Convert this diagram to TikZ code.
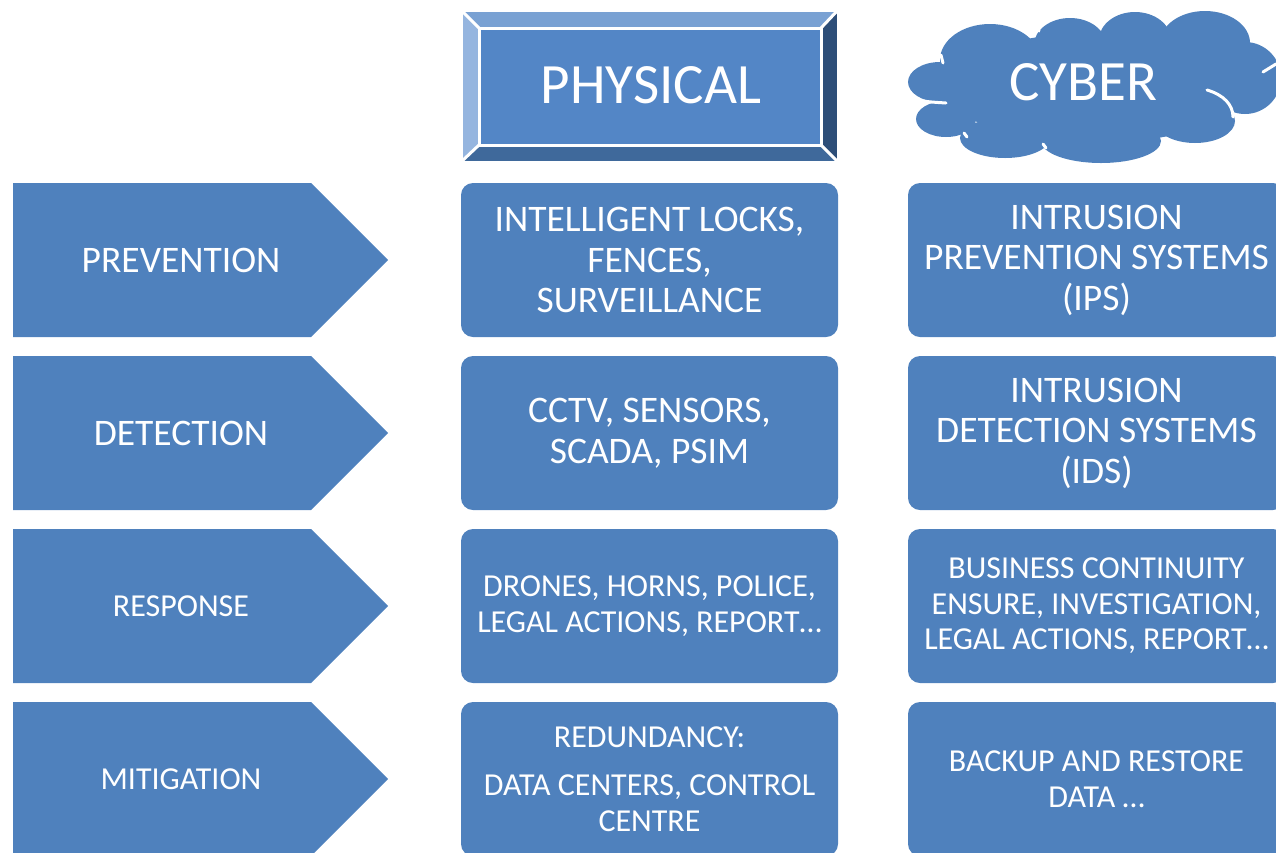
\documentclass[tikz,border=0pt]{standalone}
\usepackage{fontspec}
\setmainfont{Carlito}
\usetikzlibrary{shapes.symbols}
\definecolor{mainblue}{HTML}{4F81BD}
\definecolor{bvtop}{HTML}{79A1D3}
\definecolor{bvleft}{HTML}{95B5DF}
\definecolor{bvright}{HTML}{2D4E78}
\definecolor{bvbottom}{HTML}{3F699B}
\definecolor{bvinner}{HTML}{5386C6}
\tikzset{
  big/.style={font=\fontsize{37.5}{40.5}\selectfont},
  small/.style={font=\fontsize{32}{35.5}\selectfont},
  rbox/.style={rectangle, rounded corners=12pt, fill=mainblue, minimum width=377pt, minimum height=154pt, inner sep=0pt, text=white, align=center},
  arrowbox/.style={signal, signal to=east, signal pointer angle=90, fill=mainblue, minimum width=375pt, minimum height=154pt, inner sep=0pt, anchor=west},
  lbl/.style={text=white, inner sep=0pt, align=center},
  bevel/.style={draw=white, line width=3pt, line join=miter},
  cloudline/.style={draw=white, line width=3pt, line cap=round}
}
\begin{document}
\begin{tikzpicture}[x=1pt,y=-1pt]
\useasboundingbox (0,0) rectangle (1276,852);

% PHYSICAL bevel
\fill[bvtop] (461,10) -- (838,10) -- (821,28) -- (479,28) -- cycle;
\fill[bvleft] (461,10) -- (479,28) -- (479,145) -- (461,162) -- cycle;
\fill[bvright] (838,10) -- (838,162) -- (821,145) -- (821,28) -- cycle;
\fill[bvbottom] (461,162) -- (479,145) -- (821,145) -- (838,162) -- cycle;
\fill[bvinner] (479,28) rectangle (821,145);
\draw[bevel] (461,10) rectangle (838,162);
\draw[bevel] (479,28) rectangle (821,145);
\draw[bevel] (461,10) -- (479,28) (838,10) -- (821,28) (461,162) -- (479,145) (838,162) -- (821,145);
\node[lbl, font=\fontsize{57}{60}\selectfont] (phys) at (651,85) {PHYSICAL};

% CYBER cloud
\fill[mainblue] (1095,88) ellipse [x radius=150, y radius=55];
\fill[mainblue] (940,82) ellipse [x radius=32, y radius=20];
\fill[mainblue] (946,119) ellipse [x radius=30, y radius=18];
\fill[mainblue] (1005,138) ellipse [x radius=45, y radius=20];
\fill[mainblue] (1101,141) ellipse [x radius=60, y radius=22];
\fill[mainblue] (1195,121) ellipse [x radius=40, y radius=22];
\fill[mainblue] (1245,78) ellipse [x radius=36, y radius=36];
\fill[mainblue] (1205,43) ellipse [x radius=45, y radius=32];
\fill[mainblue] (1135,40) ellipse [x radius=36, y radius=28];
\fill[mainblue] (1070,45) ellipse [x radius=36, y radius=27];
\fill[mainblue] (990,60) ellipse [x radius=50, y radius=36];
\draw[cloudline] (1207,90) .. controls (1224,95) and (1233,105) .. (1233,117);
\draw[cloudline] (916,100) .. controls (930,102) .. (946,103);
\draw[cloudline] (1263,72) -- (1276,64);
\draw[cloudline] (941,55) -- (943,63);
\draw[cloudline] (1037,24) -- (1039,31);
\draw[cloudline] (964,133) -- (967,137);
\draw[cloudline] (1043,144) -- (1046,148);
\node[lbl, font=\fontsize{57}{60}\selectfont] (cyb) at (1083,82) {CYBER};

% Row arrows
\node[arrowbox] (a1) at (13,260) {};
\node[arrowbox] (a2) at (13,433) {};
\node[arrowbox] (a3) at (13,606) {};
\node[arrowbox] (a4) at (13,779) {};
\node[lbl, big] (t1) at (181,260) {PREVENTION};
\node[lbl, big] (t2) at (181,433) {DETECTION};
\node[lbl, small] (t3) at (181,606) {RESPONSE};
\node[lbl, small] (t4) at (181,779) {MITIGATION};

% Physical column
\node[rbox, big] (p1) at (649.5,260) {INTELLIGENT LOCKS,\\FENCES,\\SURVEILLANCE};
\node[rbox, big] (p2) at (649.5,433) {CCTV, SENSORS,\\SCADA, PSIM};
\node[rbox, small] (p3) at (649.5,606) {DRONES, HORNS, POLICE,\\LEGAL ACTIONS, REPORT…};
\node[rbox, small] (p4) at (649.5,779) {REDUNDANCY:\\[13pt]DATA CENTERS, CONTROL\\CENTRE};

% Cyber column
\node[rbox, big] (c1) at (1096.5,260) {INTRUSION\\PREVENTION SYSTEMS\\(IPS)};
\node[rbox, big] (c2) at (1096.5,433) {INTRUSION\\DETECTION SYSTEMS\\(IDS)};
\node[rbox, small] (c3) at (1096.5,606) {BUSINESS CONTINUITY\\ENSURE, INVESTIGATION,\\LEGAL ACTIONS, REPORT…};
\node[rbox, small] (c4) at (1096.5,779) {BACKUP AND RESTORE\\DATA …};
\end{tikzpicture}
\end{document}
